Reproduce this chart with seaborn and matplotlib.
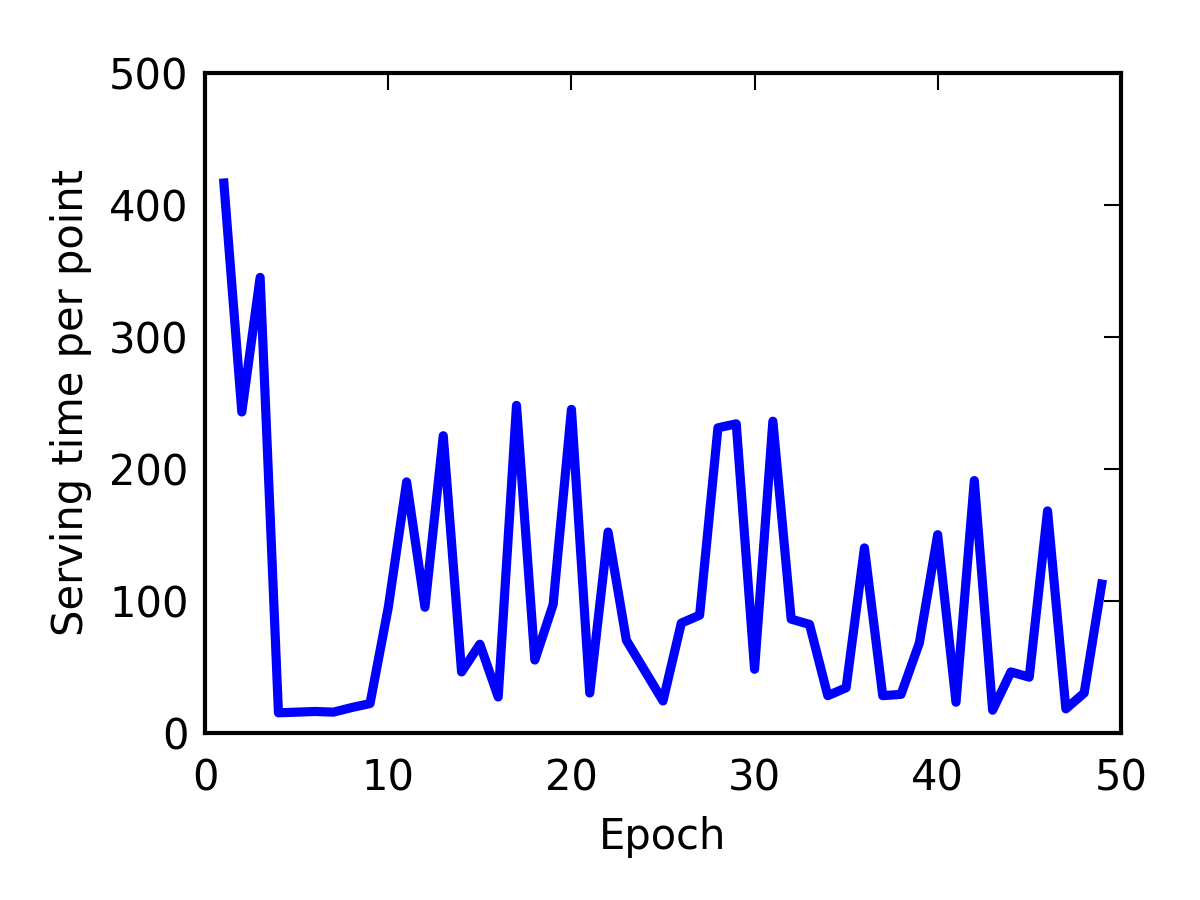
import numpy as np
import pandas as pd
import seaborn as sns
import matplotlib
matplotlib.use("Agg")
import matplotlib.pyplot as plt

# serving time per point, epochs 1..49
epochs = list(range(1, 50))
serving_time = [420, 243, 345, 15, 15.5, 16, 15.5, 19, 22, 95,
                190, 95, 225, 46, 67, 27, 248, 55, 97, 245,
                30, 152, 70, 47, 24, 83, 89, 231, 234, 48,
                236, 86, 82, 28, 34, 140, 28, 29, 68, 150,
                23, 191, 17, 46, 42, 168, 18, 30, 116]

df = pd.DataFrame({"Epoch": epochs, "Serving time per point": serving_time})

sns.set_style("white")
plt.rcParams.update({
    "font.family": ["DejaVu Sans"],
    "font.size": 10,
    "text.color": "black",
    "axes.labelcolor": "black",
    "axes.linewidth": 1.0,
    "axes.edgecolor": "black",
    "xtick.direction": "in",
    "ytick.direction": "in",
    "xtick.top": True,
    "ytick.right": True,
    "xtick.major.size": 4,
    "ytick.major.size": 4,
    "xtick.major.width": 0.5,
    "ytick.major.width": 0.5,
    "xtick.major.pad": 6,
    "ytick.major.pad": 4,
})

fig, ax = plt.subplots(figsize=(4, 3), dpi=300)
fig.subplots_adjust(left=0.171, right=0.934, top=0.919, bottom=0.186)

sns.lineplot(data=df, x="Epoch", y="Serving time per point", ax=ax,
             color="blue", linewidth=2.2, solid_capstyle="butt")

ax.set_xlim(0, 50)
ax.set_ylim(0, 500)
ax.set_xticks([0, 10, 20, 30, 40, 50])
ax.set_yticks([0, 100, 200, 300, 400, 500])
ax.tick_params(colors="black", labelsize=10)
ax.set_xlabel("Epoch", fontsize=10, color="black")
ax.set_ylabel("Serving time per point", fontsize=10, color="black")

fig.savefig("out.png", dpi=300)
